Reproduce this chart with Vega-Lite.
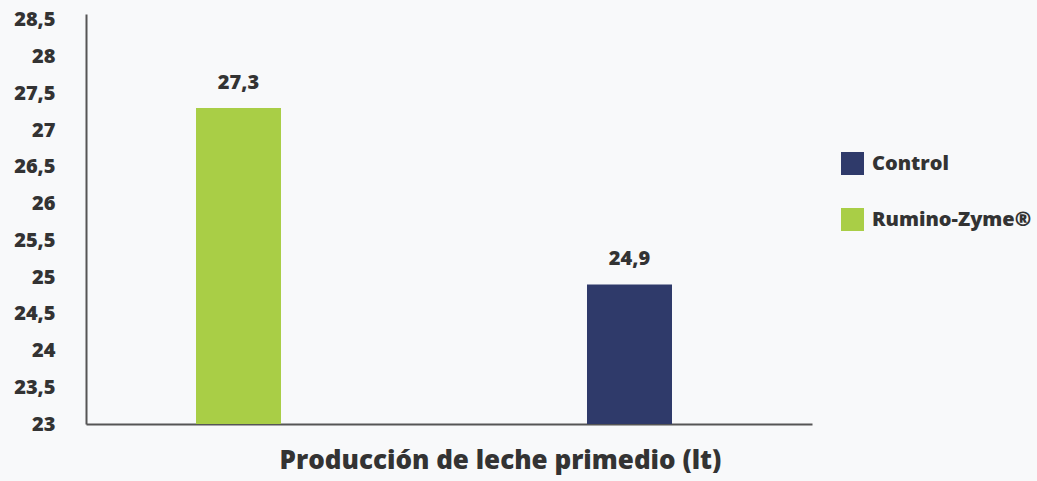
{
  "$schema": "https://vega.github.io/schema/vega-lite/v6.json",
  "width": 726,
  "height": 410,
  "autosize": {"type": "none"},
  "padding": {"left": 86, "top": 14, "right": 225, "bottom": 57},
  "background": "#f8f9fa",
  "data": {"values": [
    {"grupo": "Rumino-Zyme®", "valor": 27.3},
    {"grupo": "Control", "valor": 24.9}
  ]},
  "encoding": {
    "x": {
      "field": "grupo", "type": "nominal",
      "sort": ["Rumino-Zyme®", "Control"],
      "scale": {"paddingInner": 0.7826, "paddingOuter": 0.3197, "align": 0.44},
      "axis": {
        "title": "Producción de leche primedio (lt)",
        "labels": false, "ticks": false,
        "domainColor": "#555555", "domainWidth": 2,
        "titleFont": "Open Sans", "titleFontWeight": 800, "titleFontSize": 26,
        "titleColor": "#333333", "titleX": 414, "titleY": 44,
        "titleBaseline": "alphabetic", "titleAlign": "center"
      }
    },
    "y": {
      "field": "valor", "type": "quantitative",
      "scale": {"domain": [23, 28.58], "nice": false, "zero": false},
      "axis": {
        "title": null,
        "values": [23, 23.5, 24, 24.5, 25, 25.5, 26, 26.5, 27, 27.5, 28, 28.5],
        "format": ".1~f",
        "grid": false, "ticks": false,
        "domainColor": "#555555", "domainWidth": 2,
        "labelFont": "Open Sans", "labelFontWeight": 800, "labelFontSize": 20,
        "labelColor": "#333333", "labelPadding": 31
      }
    }
  },
  "layer": [
    {
      "mark": {"type": "bar"},
      "encoding": {
        "y2": {"datum": 23},
        "color": {
          "field": "grupo", "type": "nominal",
          "scale": {"domain": ["Control", "Rumino-Zyme®"], "range": ["#2f3a6a", "#a9ce46"]},
          "legend": {
            "title": null, "orient": "none", "legendX": 755, "legendY": 138,
            "padding": 0, "symbolType": "square", "symbolSize": 529,
            "symbolStrokeWidth": 0, "symbolOpacity": 1,
            "rowPadding": 33, "labelOffset": 8,
            "labelFont": "Open Sans", "labelFontWeight": 800, "labelFontSize": 20,
            "labelColor": "#333333", "labelLimit": 300
          }
        }
      }
    },
    {
      "mark": {"type": "text", "baseline": "bottom", "dy": -15, "font": "Open Sans", "fontWeight": 800, "fontSize": 20, "color": "#333333"},
      "encoding": {
        "text": {"field": "valor", "type": "quantitative", "format": ".1f"}
      }
    }
  ],
  "config": {
    "view": {"stroke": null},
    "locale": {"number": {"decimal": ",", "thousands": ".", "grouping": [3], "currency": ["", " €"]}}
  }
}
